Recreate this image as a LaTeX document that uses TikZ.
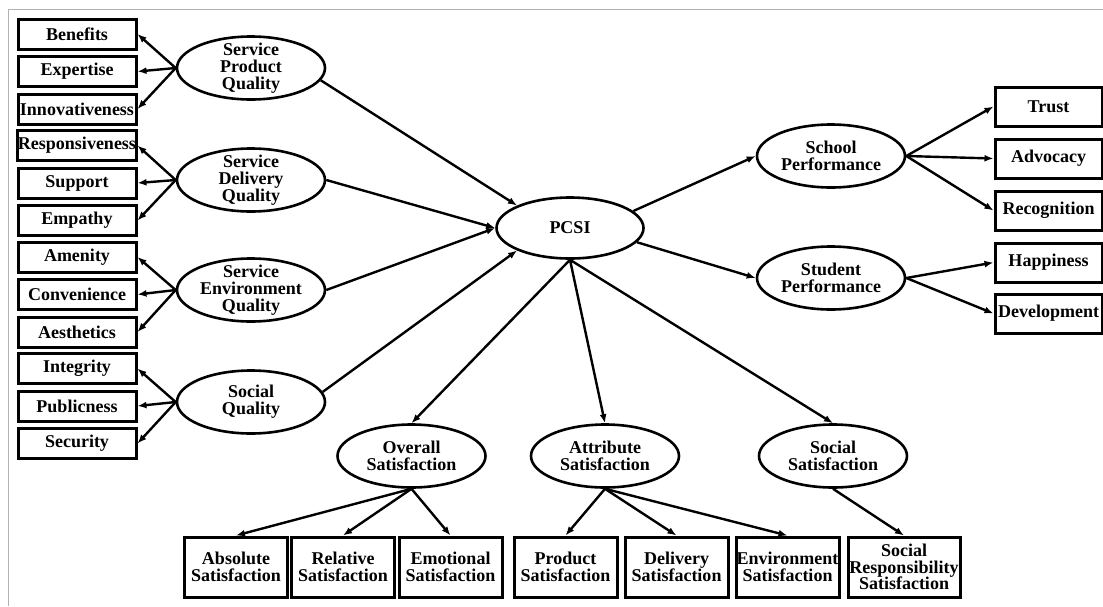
\documentclass[tikz,border=0pt]{standalone}
\usepackage{fontspec}
\setmainfont{Liberation Serif}
\usetikzlibrary{shapes.geometric,arrows.meta}

\begin{document}
\begin{tikzpicture}[x=1pt, y=-1pt,
    every node/.style={font=\bfseries\fontsize{18}{16.7}\selectfont, align=center},
    latent/.style={draw, ellipse, line width=2.6pt, minimum width=148pt, minimum height=63pt, inner sep=-6pt},
    ind/.style={draw, rectangle, line width=3pt, inner sep=0pt, minimum width=118pt, minimum height=30pt},
    resbox/.style={draw, rectangle, line width=3pt, inner sep=0pt, minimum width=107pt, minimum height=39pt},
    satbox/.style={draw, rectangle, line width=3pt, inner sep=0pt, minimum width=103pt, minimum height=60pt},
    arr/.style={-{Latex[length=9pt,width=7pt]}, line width=2.4pt}]
    \useasboundingbox (0,0) rectangle (1103,606);
    \draw[gray!60, line width=1pt] (1103,9) -- (8,9) -- (8,606);

    % indicators, left
    \node[ind] (benefits) at (77,34) {Benefits};
    \node[ind] (expertise) at (77,71.5) {Expertise};
    \node[ind] (innov) at (77,109) {Innovativeness};
    \node[ind] (respons) at (77,145.5) {Responsiveness};
    \node[ind] (support) at (77,183) {Support};
    \node[ind] (empathy) at (77,220.5) {Empathy};
    \node[ind] (amenity) at (77,257) {Amenity};
    \node[ind] (conven) at (77,294.5) {Convenience};
    \node[ind] (aesth) at (77,332) {Aesthetics};
    \node[ind] (integ) at (77,368.5) {Integrity};
    \node[ind] (public) at (77,406) {Publicness};
    \node[ind] (secur) at (77,443.5) {Security};

    % quality
    \node[latent] (spq) at (251,68) {Service\\Product\\Quality};
    \node[latent] (sdq) at (251,180) {Service\\Delivery\\Quality};
    \node[latent] (seq) at (251,290) {Service\\Environment\\Quality};
    \node[latent] (sq) at (251,402) {Social\\Quality};

    % index
    \node[latent, minimum width=147pt, minimum height=61pt] (pcsi) at (570,228) {PCSI};

    % performance
    \node[latent] (schp) at (831,156) {School\\Performance};
    \node[latent] (stup) at (831,278) {Student\\Performance};
    \node[resbox] (trust) at (1048.5,106.5) {Trust};
    \node[resbox] (advoc) at (1048.5,158.5) {Advocacy};
    \node[resbox] (recog) at (1048.5,210.5) {Recognition};
    \node[resbox] (happy) at (1048.5,262.5) {Happiness};
    \node[resbox] (devel) at (1048.5,313.5) {Development};

    % satisfaction
    \node[latent] (os) at (411.5,456) {Overall\\Satisfaction};
    \node[latent] (as) at (605,456) {Attribute\\Satisfaction};
    \node[latent] (ss) at (833,456) {Social\\Satisfaction};
    \node[satbox] (absol) at (236,567) {Absolute\\Satisfaction};
    \node[satbox] (relat) at (343,567) {Relative\\Satisfaction};
    \node[satbox] (emot) at (450.5,567) {Emotional\\Satisfaction};
    \node[satbox] (prod) at (565.5,567) {Product\\Satisfaction};
    \node[satbox] (deliv) at (676.5,567) {Delivery\\Satisfaction};
    \node[satbox] (envir) at (787.5,567) {Environment\\Satisfaction};
    \node[satbox, minimum width=112pt] (socresp) at (904,567) {Social\\Responsibility\\Satisfaction};

    % loadings
    \draw[arr] (spq.west) -- (benefits.east);
    \draw[arr] (spq.west) -- (expertise.east);
    \draw[arr] (spq.west) -- (innov.east);
    \draw[arr] (sdq.west) -- (respons.east);
    \draw[arr] (sdq.west) -- (support.east);
    \draw[arr] (sdq.west) -- (empathy.east);
    \draw[arr] (seq.west) -- (amenity.east);
    \draw[arr] (seq.west) -- (conven.east);
    \draw[arr] (seq.west) -- (aesth.east);
    \draw[arr] (sq.west) -- (integ.east);
    \draw[arr] (sq.west) -- (public.east);
    \draw[arr] (sq.west) -- (secur.east);

    % paths
    \draw[arr] (spq.-10) -- (pcsi.157);
    \draw[arr] (sdq.east) -- (pcsi.west);
    \draw[arr] (seq.east) -- (pcsi.west);
    \draw[arr] (sq.8) -- (pcsi.203);
    \draw[arr] (pcsi.15) -- (schp.west);
    \draw[arr] (pcsi.-12) -- (stup.west);
    \draw[arr] (pcsi.south) -- (os.north);
    \draw[arr] (pcsi.south) -- (as.north);
    \draw[arr] (pcsi.south) -- (ss.north);

    \draw[arr] (schp.east) -- (trust.west);
    \draw[arr] (schp.east) -- (advoc.west);
    \draw[arr] (schp.east) -- (recog.west);
    \draw[arr] (stup.east) -- (happy.west);
    \draw[arr] (stup.east) -- (devel.west);

    \draw[arr] (os.south) -- (absol.north);
    \draw[arr] (os.south) -- (relat.north);
    \draw[arr] (os.south) -- (emot.north);
    \draw[arr] (as.south) -- (prod.north);
    \draw[arr] (as.south) -- (deliv.north);
    \draw[arr] (as.south) -- (envir.north);
    \draw[arr] (ss.south) -- (socresp.north);
\end{tikzpicture}
\end{document}
